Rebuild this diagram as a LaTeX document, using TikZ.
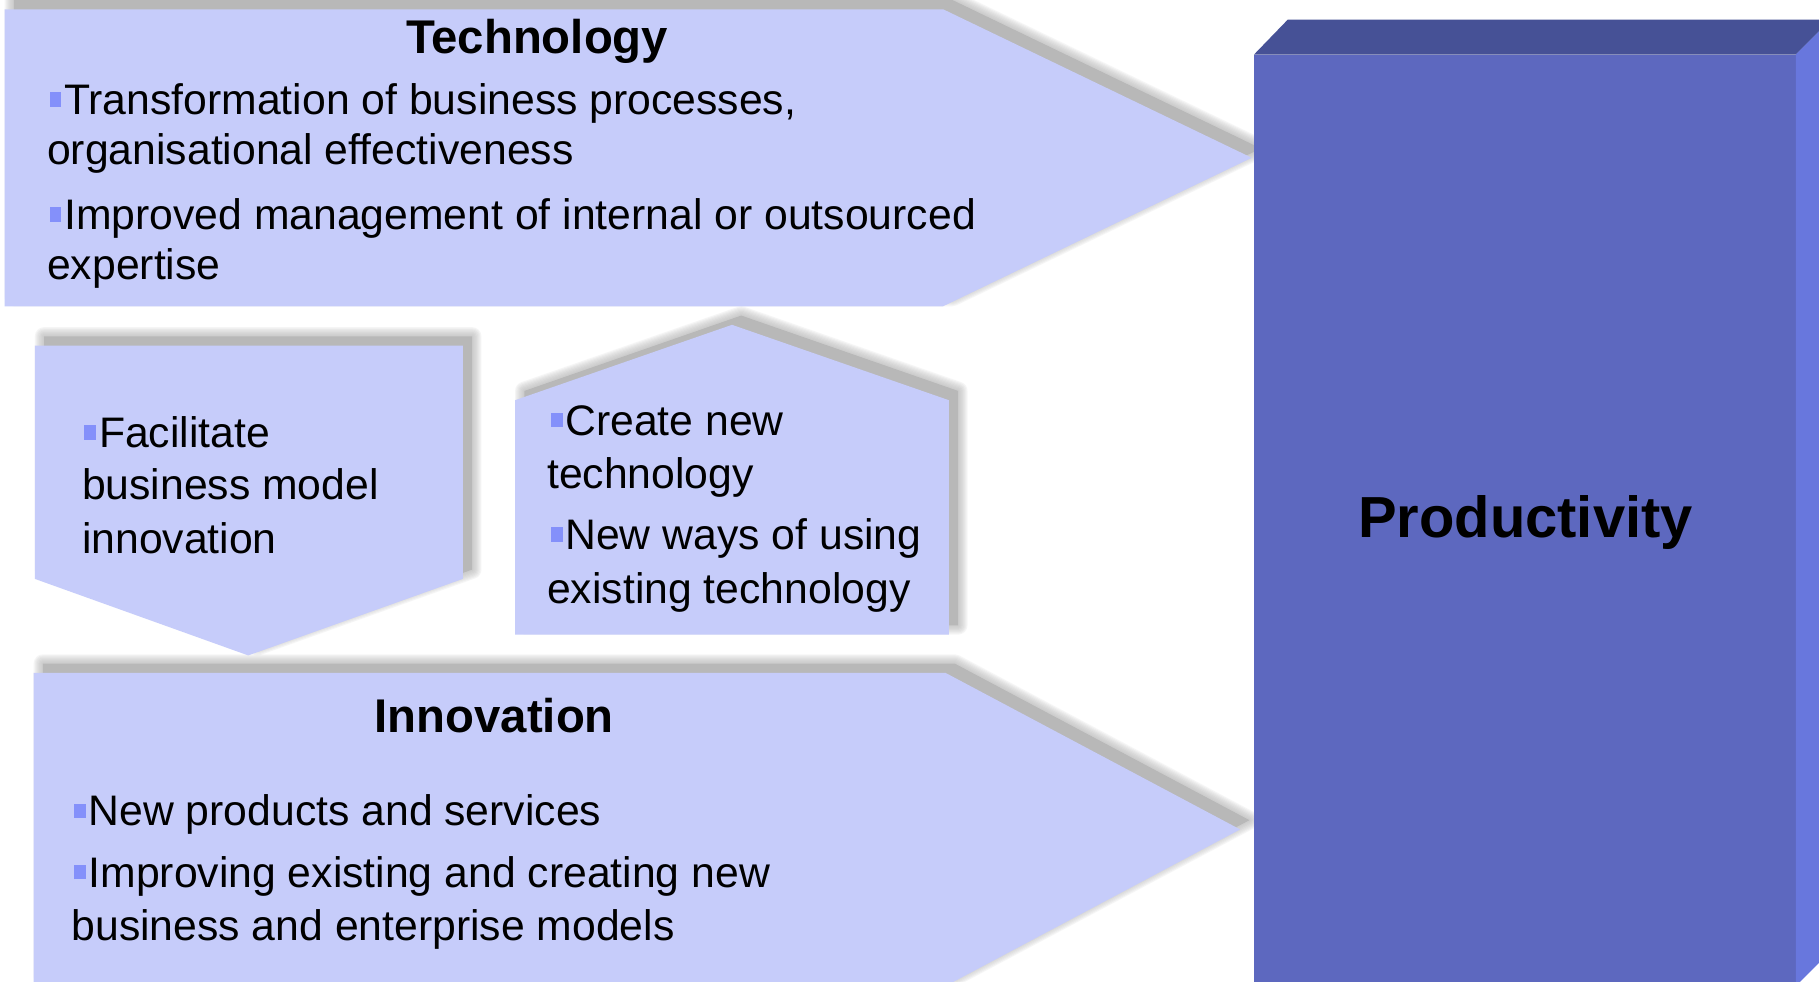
\documentclass[tikz,border=0pt]{standalone}
\usepackage{fontspec}
\setmainfont{Liberation Sans}
\definecolor{arrowfill}{RGB}{198,204,250}
\definecolor{frontc}{RGB}{93,104,191}
\definecolor{topc}{RGB}{70,81,150}
\definecolor{sidec}{RGB}{104,119,221}
\definecolor{bulc}{RGB}{132,144,250}
\definecolor{shadc}{RGB}{184,184,184}
\newcommand\sqb{\textcolor{bulc}{\rule[2pt]{2.9pt}{3.5pt}}\hspace{0.7pt}}
\newcommand\techpath{(4,8) -- (813,8) -- (1079,136) -- (813,264) -- (4,264) -- cycle}
\newcommand\facilpath{(30,298) -- (399,298) -- (399,499) -- (214,565) -- (30,499) -- cycle}
\newcommand\createpath{(444,547) -- (444,345) -- (631,280) -- (818,345) -- (818,547) -- cycle}
\newcommand\innovpath{(29,580) -- (815,580) -- (1069,715) -- (815,850) -- (29,850) -- cycle}
\newcommand\shadowof[1]{%
  \begin{scope}[shift={(8,-8)}]
    \foreach \r in {1,...,8} {
      \draw[shadc, opacity=.13, line width=\r*0.569pt, line join=round] #1;
    }
    \fill[shadc] #1;
  \end{scope}}
\begin{document}
\begin{tikzpicture}[x=0.01cm,y=-0.01cm,
  body/.style={font=\fontsize{10.47}{12.5}\selectfont, anchor=base west, inner sep=0pt},
  title/.style={font=\fontsize{11.6}{14}\selectfont\bfseries, anchor=base, inner sep=0pt},
  panel/.style={fill=arrowfill}]
\useasboundingbox[fill=white] (0,0) rectangle (1568,846);
\clip (0,0) rectangle (1568,846);
% shadows
\shadowof{\techpath}
\shadowof{\facilpath}
\shadowof{\createpath}
\shadowof{\innovpath}
% panels
\fill[panel] \techpath;
\fill[panel] \facilpath;
\fill[panel] \createpath;
\fill[panel] \innovpath;
% productivity block
\fill[frontc] (1081,47) rectangle (1548,850);
\fill[topc] (1081,47) -- (1110,17) -- (1578,17) -- (1548,47) -- cycle;
\fill[sidec] (1548,47) -- (1578,17) -- (1578,820) -- (1548,850) -- cycle;
\node[font=\fontsize{14.2}{17}\selectfont\bfseries, anchor=base, inner sep=0pt] (prod) at (1315,463) {Productivity};
% technology
\node[title] (tech) at (463,46) {Technology};
\node[body] (t1) at (42,99) {\sqb Transformation of business processes,};
\node[body] (t2) at (40,142) {organisational effectiveness};
\node[body] (t3) at (42,198) {\sqb Improved management of internal or outsourced};
\node[body] (t4) at (40,241) {expertise};
% facilitate
\node[body] (f1) at (72,386) {\sqb Facilitate};
\node[body] (f2) at (70,431) {business model};
\node[body] (f3) at (70,477) {innovation};
% create
\node[body] (c1) at (474,375) {\sqb Create new};
\node[body] (c2) at (471,421) {technology};
\node[body] (c3) at (474,474) {\sqb New ways of using};
\node[body] (c4) at (471,520) {existing technology};
% innovation
\node[title] (innov) at (426,631) {Innovation};
\node[body] (i1) at (63,712) {\sqb New products and services};
\node[body] (i2) at (63,765) {\sqb Improving existing and creating new};
\node[body] (i3) at (61,811) {business and enterprise models};
\end{tikzpicture}
\end{document}
